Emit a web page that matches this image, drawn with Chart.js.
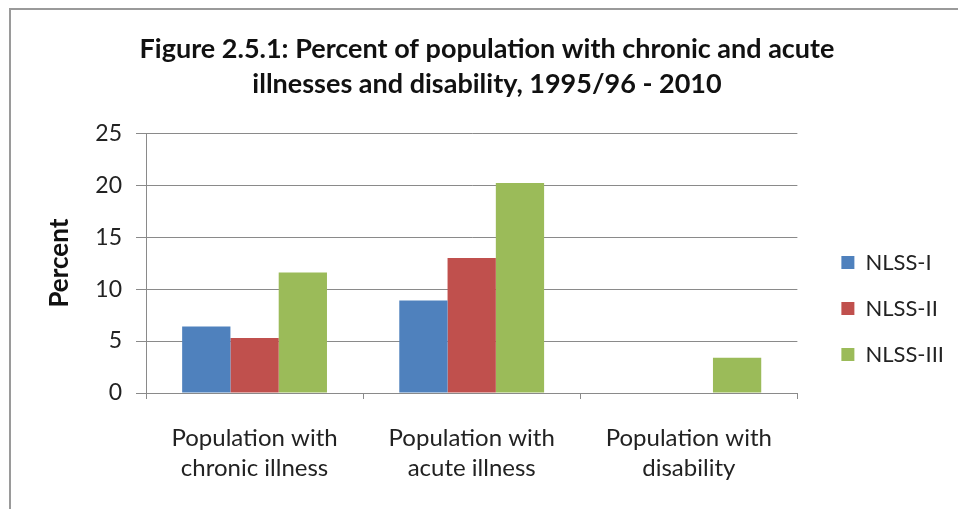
<!DOCTYPE html>
<html>
<head>
<meta charset="utf-8">
<script src="https://cdn.jsdelivr.net/npm/chart.js@4.4.1/dist/chart.umd.min.js"></script>
<style>
  html, body { margin: 0; padding: 0; background: #ffffff; }
  #wrap { position: relative; width: 958px; height: 509px; overflow: hidden; }
  #frame { position: absolute; left: 9px; top: 8px; width: 1000px; height: 600px;
           border-left: 2px solid #9a9a9a; border-top: 2px solid #9a9a9a; box-sizing: border-box; }
  canvas { position: absolute; left: 0; top: 0; }
</style>
</head>
<body>
<div id="wrap">
  <div id="frame"></div>
  <canvas id="c" width="958" height="509"></canvas>
</div>
<script>
const categories = [
  ["Population with", "chronic illness"],
  ["Population with", "acute illness"],
  ["Population with", "disability"]
];
const seriesNames = ["NLSS-I", "NLSS-II", "NLSS-III"];
const nlss1 = [6.4, 8.9, null];
const nlss2 = [5.3, 13.0, null];
const nlss3 = [11.6, 20.2, 3.4];
const seriesColors = ["#4F81BD", "#C0504D", "#9BBB59"];
const yTicks = [0, 5, 10, 15, 20, 25];
const titleLines = [
  "Figure 2.5.1: Percent of population with chronic and acute",
  "illnesses and disability, 1995/96 - 2010"
];
const yTitle = "Percent";

const FONT = "Lato, 'Liberation Sans', sans-serif";
const GRID = "#8a8a8a";

const legendShift = {
  id: 'legendShift',
  afterLayout(chart) {
    const lg = chart.legend;
    if (!lg) return;
    const dx = 20, dy = 62;
    lg.left += dx; lg.right += dx;
    lg.top += dy; lg.bottom += dy;
  }
};

new Chart(document.getElementById('c'), {
  type: 'bar',
  data: {
    labels: categories,
    datasets: [
      { label: seriesNames[0], data: nlss1, backgroundColor: seriesColors[0] },
      { label: seriesNames[1], data: nlss2, backgroundColor: seriesColors[1] },
      { label: seriesNames[2], data: nlss3, backgroundColor: seriesColors[2] }
    ]
  },
  options: {
    responsive: false,
    animation: false,
    devicePixelRatio: 1,
    categoryPercentage: 0.667,
    barPercentage: 1.0,
    layout: { padding: { left: 40, right: 24, top: 0, bottom: 16 } },
    plugins: {
      title: {
        display: true,
        text: titleLines,
        color: '#111111',
        font: { family: FONT, size: 27, weight: 'bold', lineHeight: 1.3 },
        padding: { top: 32, bottom: 31 }
      },
      legend: {
        position: 'right',
        labels: {
          color: '#222222',
          font: { family: FONT, size: 22 },
          boxWidth: 13,
          boxHeight: 13,
          padding: 24
        }
      },
      tooltip: { enabled: false }
    },
    scales: {
      x: {
        offset: true,
        grid: { display: true, drawOnChartArea: false, drawTicks: true, tickLength: 6, color: GRID, offset: true },
        border: { display: true, color: GRID, width: 1 },
        ticks: { color: '#222222', font: { family: FONT, size: 24, lineHeight: 1.25 }, padding: 24, maxRotation: 0, autoSkip: false },
        afterFit(s) { s.height = 100; }
      },
      y: {
        min: 0, max: 25,
        afterBuildTicks(s) { s.ticks = yTicks.map(v => ({ value: v })); },
        grid: { color: GRID, tickLength: 10, drawTicks: true },
        border: { display: true, color: GRID, width: 1 },
        ticks: { color: '#222222', font: { family: FONT, size: 23 }, padding: 14 },
        title: { display: true, text: yTitle, color: '#111111', font: { family: FONT, size: 26, weight: 'bold', lineHeight: 1.2 }, padding: 4 },
        afterFit(s) { s.width = 106; }
      }
    }
  },
  plugins: [legendShift]
});
</script>
</body>
</html>
